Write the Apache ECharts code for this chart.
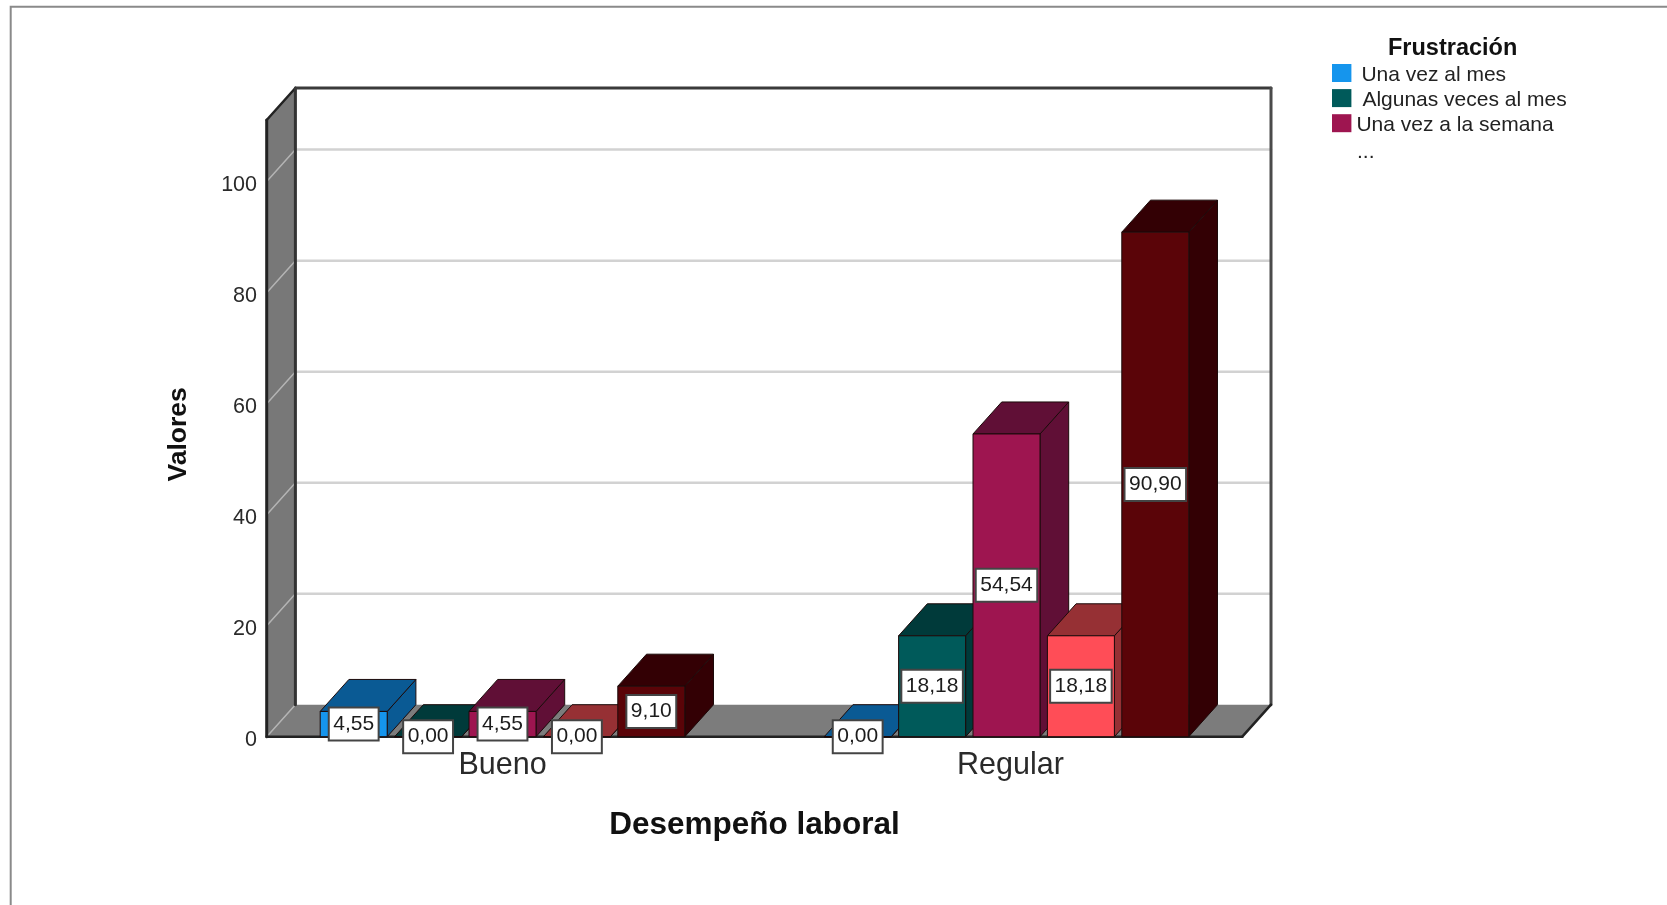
<!DOCTYPE html>
<html>
<head>
<meta charset="utf-8">
<style>html,body{margin:0;padding:0;background:#fff;overflow:hidden}#c{width:1667px;height:905px}</style>
<script src="https://cdn.jsdelivr.net/npm/echarts@6/dist/echarts.min.js"></script>
</head>
<body>
<div id="c"></div>
<script>
const categories = ['Bueno', 'Regular'];
const unaVezAlMes = [4.55, 0];
const algunasVecesAlMes = [0, 18.18];
const unaVezALaSemana = [4.55, 54.54];
const algunasVecesALaSemana = [0, 18.18];
const todosLosDias = [9.10, 90.90];
const seriesNames = ['Una vez al mes', 'Algunas veces al mes', 'Una vez a la semana', 'Algunas veces a la semana', 'Todos los días'];
const seriesValues = [unaVezAlMes, algunasVecesAlMes, unaVezALaSemana, algunasVecesALaSemana, todosLosDias];
const frontColors = ['#1595ed', '#005a5a', '#9e1550', '#ff4d57', '#5a0408'];
const shadeColors = ['#0a5a94', '#003a3a', '#600f36', '#963034', '#330004'];
const gridTicks = [0, 20, 40, 60, 80, 100];
const legendTitle = 'Frustración';

const FONT = '"Liberation Sans", Arial, sans-serif';
const DX = 28.7, DY = 32;          // oblique depth of the 3D look
const SLOT = 74.4, BAR_W = 67;     // bar pitch and width
const INSET = 16.2;                // wall starts this far inside the category band

function wallItem(params, api) {
  const cs = params.coordSys;
  const L = cs.x + INSET, R = cs.x + cs.width - INSET, T = cs.y, B = cs.y + cs.height;
  const poly = (pts, fill, z2) => ({type: 'polygon', z2: z2 || 0, shape: {points: pts}, style: {fill: fill, stroke: null}});
  const line = (x1, y1, x2, y2, color, w, z2) => ({type: 'line', z2: z2 || 1, shape: {x1, y1, x2, y2}, style: {stroke: color, lineWidth: w, lineCap: 'round'}});
  const kids = [
    poly([[L, T], [L + DX, T - DY], [L + DX, B - DY], [L, B]], '#787878'),
    poly([[L, B], [L + DX, B - DY], [R + DX, B - DY], [R, B]], '#7c7c7c')
  ];
  gridTicks.forEach(v => {
    const y = api.coord([0, v])[1];
    kids.push(line(L, y, L + DX, y - DY, '#b4b4b4', 1.5));
    if (v > 0) kids.push(line(L + DX, y - DY, R + DX, y - DY, '#d2d2d2', 2.5));
  });
  kids.push(
    line(L, T, L + DX, T - DY, '#222', 2.5, 2),
    line(L, T, L, B, '#222', 3, 2),
    line(L + DX, T - DY, L + DX, B - DY, '#333', 3, 2),
    line(L + DX, T - DY, R + DX, T - DY, '#3a3a3a', 3, 2),
    line(R + DX, T - DY, R + DX, B - DY, '#4a4a4a', 3, 2),
    line(L, B, R, B, '#222', 2.5, 2),
    line(R, B, R + DX, B - DY, '#222', 2.5, 2)
  );
  return {type: 'group', children: kids};
}

function barRenderer(si) {
  return function (params, api) {
    const cat = api.value(0), val = api.value(1);
    const c = api.coord([cat, val]), base = api.coord([cat, 0]);
    const x = c[0] + (si - 2) * SLOT - BAR_W / 2;
    const x2 = x + BAR_W, yT = c[1], yB = base[1];
    const edge = {stroke: '#1c0a0a', lineWidth: 1};
    const face = (pts, fill) => ({type: 'polygon', z2: 10 + si, shape: {points: pts}, style: Object.assign({fill: fill}, edge)});
    const kids = [
      face([[x2, yT], [x2 + DX, yT - DY], [x2 + DX, yB - DY], [x2, yB]], shadeColors[si]),
      face([[x, yT], [x + DX, yT - DY], [x2 + DX, yT - DY], [x2, yT]], shadeColors[si]),
      face([[x, yT], [x2, yT], [x2, yB], [x, yB]], frontColors[si]),
      {type: 'text', z2: 100, style: {
        text: val.toFixed(2).replace('.', ','),
        x: x + BAR_W / 2, y: (yT + yB) / 2,
        align: 'center', verticalAlign: 'middle',
        font: '21px ' + FONT, fill: '#1c1c1c',
        backgroundColor: '#fff', borderColor: '#444', borderWidth: 2,
        padding: [5, 3.5, 5, 3.5]
      }}
    ];
    return {type: 'group', children: kids};
  };
}

const legendRich = (left) => ({fontFamily: FONT, fontSize: 21, color: '#222', padding: [4, 0, 0, left]});

const option = {
  backgroundColor: '#fff',
  animation: false,
  title: {
    text: legendTitle, left: 1383, top: 32,
    textStyle: {fontFamily: FONT, fontSize: 23.5, fontWeight: 'bold', color: '#111'}
  },
  legend: {
    left: 1327, top: 59, orient: 'vertical', itemWidth: 19.4, itemHeight: 18, itemGap: 3.6, icon: 'rect',
    selectedMode: false,
    formatter: (n) => '{t' + seriesNames.indexOf(n) + '|' + n + '}',
    textStyle: {
      fontFamily: FONT, fontSize: 21, color: '#222',
      rich: {t0: legendRich(5), t1: legendRich(6), t2: legendRich(0)}
    },
    data: seriesNames.slice(0, 3)
  },
  graphic: [
    {type: 'polyline', silent: true, shape: {points: [[10.7, 1000], [10.7, 6.7], [1800, 6.7]]}, style: {stroke: '#8a8a8a', lineWidth: 2, fill: null}},
    {type: 'text', left: 1357, top: 142, style: {text: '...', font: '21px ' + FONT, fill: '#222'}}
  ],
  grid: {left: 250.5, top: 120, width: 1008, height: 616.7},
  xAxis: {
    type: 'category', data: categories,
    axisLine: {show: false}, axisTick: {show: false}, splitLine: {show: false},
    axisLabel: {
      margin: 13.5, color: '#2a2a2a', fontFamily: FONT, fontSize: 30.5,
      formatter: (v) => v === 'Regular' ? '{r|' + v + '}' : v,
      rich: {r: {fontFamily: FONT, fontSize: 30.5, color: '#2a2a2a', padding: [0, 0, 0, 8]}}
    },
    name: 'Desempeño laboral', nameLocation: 'middle', nameGap: 72.5,
    nameTextStyle: {fontFamily: FONT, fontSize: 31.5, fontWeight: 'bold', color: '#111'}
  },
  yAxis: {
    type: 'value', min: 0, max: 111.1, interval: 20, offset: -INSET,
    axisLine: {show: false}, axisTick: {show: false}, splitLine: {show: false},
    axisLabel: {
      showMaxLabel: false, margin: 9.7, color: '#2a2a2a', fontFamily: FONT, fontSize: 21.5,
      formatter: '{t|{value}}',
      rich: {t: {fontFamily: FONT, fontSize: 21.5, color: '#2a2a2a', padding: [7.5, 0, 0, 0]}}
    },
    name: 'Valores', nameLocation: 'middle', nameRotate: 90, nameGap: 75,
    nameTextStyle: {fontFamily: FONT, fontSize: 26.5, fontWeight: 'bold', color: '#111', padding: [0, 12, 0, 0]}
  },
  series: [
    {type: 'custom', name: 'paredes', z: 1, silent: true, clip: false, renderItem: wallItem, data: [[0, 0]], encode: {x: 0, y: 1}, legendHoverLink: false}
  ].concat(seriesNames.map((n, si) => ({
    type: 'custom', name: n, z: 2, clip: false, renderItem: barRenderer(si),
    itemStyle: {color: frontColors[si]},
    encode: {x: 0, y: 1},
    data: seriesValues[si].map((v, i) => [i, v])
  })))
};
const chart = echarts.init(document.getElementById('c'), null, {renderer: 'canvas'});
chart.setOption(option);
</script>
</body>
</html>
